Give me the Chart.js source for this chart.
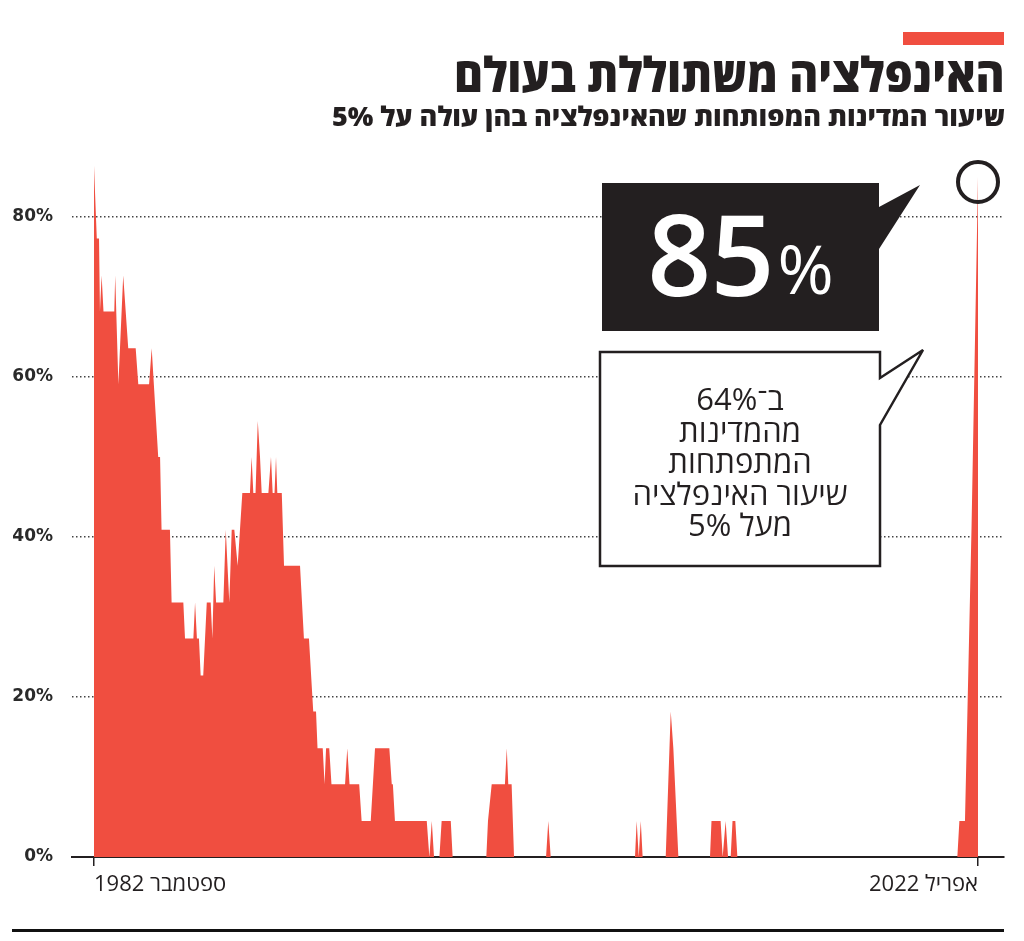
<!DOCTYPE html>
<html lang="he">
<head>
<meta charset="utf-8">
<script src="https://cdn.jsdelivr.net/npm/chart.js@4"></script>
<style>
  html, body { margin: 0; padding: 0; background: #fff; }
  body { width: 1024px; height: 941px; position: relative; overflow: hidden; font-family: "Open Sans", "Liberation Sans", "DejaVu Sans", sans-serif; color: #231f20; }
  #chart { position: absolute; left: 0; top: 0; }
  .abs { position: absolute; }
  #topbar { left: 903px; top: 32px; width: 101px; height: 13px; background: #f04e40; }
  #title { right: 19px; top: 50px; font-size: 48px; font-weight: 800; line-height: 1; white-space: nowrap; direction: rtl; transform: scaleX(0.92); transform-origin: right center; }
  #subtitle { right: 19px; top: 102px; font-size: 27px; font-weight: 800; line-height: 1; white-space: nowrap; direction: rtl; }
  #bottomrule { left: 12px; top: 929px; width: 992px; height: 3px; background: #111; }
  #big { left: 602px; top: 179px; width: 277px; height: 148px; color: #fff; display: flex; align-items: center; justify-content: center; direction: ltr; }
  #big .num { font-size: 112px; font-weight: 600; line-height: 1; letter-spacing: -1px; }
  #big .pct { font-size: 68px; font-weight: 500; line-height: 1; margin-left: 4px; align-self: center; margin-top: 30px; }
  #note { left: 600px; top: 383px; width: 280px; text-align: center; direction: rtl; font-size: 31px; line-height: 31.5px; color: #231f20; }
</style>
</head>
<body>
<canvas id="chart" width="1024" height="941" dir="rtl"></canvas>

<svg class="abs" style="left:0;top:0" width="1024" height="941">
  <path d="M602,183 H879 V207 L920,185 L879,249 V331 H602 Z" fill="#231f20"/>
  <path d="M600,352 H880 V378 L923,350 L880,425 V566 H600 Z" fill="#fff" stroke="#231f20" stroke-width="2.5"/>
</svg>

<div class="abs" id="topbar"></div>
<div class="abs" id="title">האינפלציה משתוללת בעולם</div>
<div class="abs" id="subtitle">שיעור המדינות המפותחות שהאינפלציה בהן עולה על 5%</div>
<div class="abs" id="big"><span class="num">85</span><span class="pct">%</span></div>
<div class="abs" id="note">ב־64%<br>מהמדינות<br>המתפתחות<br>שיעור האינפלציה<br>מעל 5%</div>
<div class="abs" id="bottomrule"></div>

<script>
// months since September 1982 (0) up to April 2022 (475), at the points where the line turns
const monthOffsets = [
  0, 1.5, 2.7, 3.2, 4.1, 5.1, 10.9, 11.4, 13.1, 15.7, 18.4, 22.4, 23.8, 29.6, 31,
  34.5, 35.5, 36.3, 40.8, 41.7, 48, 48.9, 53.4, 54.3, 55.3, 56.4, 57.3, 58.7,
  60.6, 62.7, 63.6, 64.6, 65.6, 69.5, 70.8, 72.7, 74, 75.4, 77.2, 79.7, 83.8,
  84.7, 85.6, 86.8, 88, 89.2, 90.1, 93.7, 95.1, 96, 97, 97.8, 98.5, 100.9,
  102.1, 110.7, 112.8, 115.5, 117.8, 119.3, 120.1, 122.9, 123.9, 124.7, 126.4,
  127.6, 134.9, 136.1, 137.3, 142.5, 143.8, 148.7, 151, 158.7, 160, 160.6,
  161.7, 178.8, 180.2, 181.5, 182.7, 185.6, 186.8, 191.7, 192.7,
  210.8, 211.7, 213.7, 220.8, 221.8, 222.6, 224.4, 225.7,
  242.9, 244.1, 245.4,
  290.7, 291.6, 292.7, 293.8, 294.8,
  307.2, 309.9, 311.3, 314,
  331, 331.8, 336.7, 337.8, 339.4, 340.7, 342.1, 343.1, 344.6, 345.7,
  463.9, 465, 468, 471.5, 475
];

// share of developed countries with inflation above 5%, in percent
const shareAbove5 = [
  86.4, 77.3, 77.3, 68.2, 72.7, 68.2, 68.2, 72.7, 59.1, 72.7, 63.6, 63.6, 59.1, 59.1, 63.6,
  50, 50, 40.9, 40.9, 31.8, 31.8, 27.3, 27.3, 31.8, 27.3, 27.3, 22.7, 22.7,
  31.8, 31.8, 27.3, 36.4, 31.8, 31.8, 40.9, 31.8, 40.9, 40.9, 36.4, 45.5, 45.5,
  50, 45.5, 45.5, 54.5, 50, 45.5, 45.5, 50, 45.5, 45.5, 50, 45.5, 45.5,
  36.4, 36.4, 27.3, 27.3, 18.2, 18.2, 13.6, 13.6, 9.1, 13.6, 13.6,
  9.1, 9.1, 13.6, 9.1, 9.1, 4.5, 4.5, 13.6, 13.6, 9.1, 9.1,
  4.5, 4.5, 0, 4.5, 0, 0, 4.5, 4.5, 0,
  0, 4.5, 9.1, 9.1, 13.6, 9.1, 9.1, 0,
  0, 4.5, 0,
  0, 4.5, 0, 4.5, 0,
  0, 18.2, 13.6, 0,
  0, 4.5, 4.5, 0, 4.5, 0, 0, 4.5, 4.5, 0,
  0, 4.5, 4.5, 40.9, 85
];

const xTickValues = [0, 475];
const xTickLabels = ['ספטמבר 1982', 'אפריל 2022'];
const yTickValues = [0, 20, 40, 60, 80];

const RED = '#f04e40';
const INK = '#231f20';

// ring around the last point
const ringPlugin = {
  id: 'ring',
  afterDatasetsDraw(chart) {
    const pts = chart.getDatasetMeta(0).data;
    const p = pts[pts.length - 1];
    const ctx = chart.ctx;
    ctx.save();
    ctx.beginPath();
    ctx.arc(p.x, p.y + 5, 20, 0, Math.PI * 2);
    ctx.lineWidth = 4;
    ctx.strokeStyle = INK;
    ctx.stroke();
    ctx.restore();
  }
};

const ctx = document.getElementById('chart').getContext('2d');
new Chart(ctx, {
  type: 'line',
  data: {
    datasets: [{
      data: monthOffsets.map((m, i) => ({ x: m, y: shareAbove5[i] })),
      borderWidth: 0,
      borderColor: RED,
      backgroundColor: RED,
      fill: 'origin',
      pointRadius: 0,
      tension: 0
    }]
  },
  options: {
    responsive: false,
    animation: false,
    layout: { padding: { left: 0, right: 20, top: 153, bottom: 0 } },
    plugins: { legend: { display: false }, tooltip: { enabled: false } },
    scales: {
      x: {
        type: 'linear',
        min: -11.82,
        max: 488.97,
        afterBuildTicks: (s) => { s.ticks = xTickValues.map(v => ({ value: v })); },
        afterFit: (s) => { s.height = 84; },
        grid: { drawOnChartArea: false, drawTicks: true, tickLength: 9, color: INK, lineWidth: 1.5 },
        border: { display: true, color: INK, width: 2 },
        ticks: {
          autoSkip: false,
          maxRotation: 0,
          align: 'inner',
          padding: 6,
          color: INK,
          font: { family: '"Open Sans", "Liberation Sans", "DejaVu Sans"', size: 22 },
          callback: (v, i) => xTickLabels[i]
        }
      },
      y: {
        min: 0,
        max: 88,
        afterBuildTicks: (s) => { s.ticks = yTickValues.map(v => ({ value: v })); },
        afterFit: (s) => { s.width = 72; },
        grid: { drawTicks: false, color: '#444', lineWidth: 1.5 },
        border: { display: false, dash: [1.5, 2.5] },
        ticks: {
          padding: 19,
          color: '#2a2a2a',
          font: { family: '"DejaVu Sans"', size: 17, weight: 'bold' },
          callback: (v) => v + '%'
        }
      }
    }
  },
  plugins: [ringPlugin]
});
</script>
</body>
</html>
